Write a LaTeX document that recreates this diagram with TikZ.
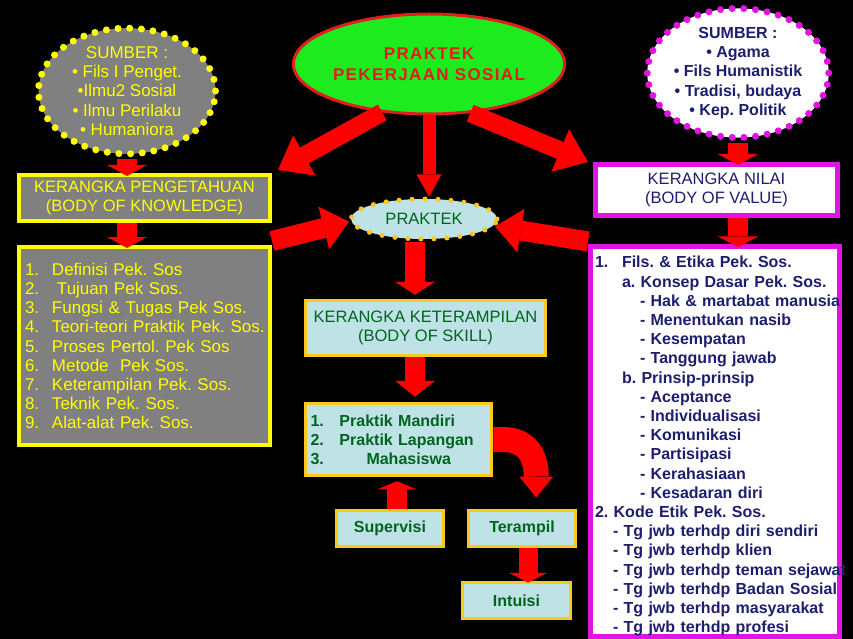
\documentclass[tikz,border=0pt]{standalone}
\usepackage{fontspec}
\setmainfont{Liberation Sans}
\newfontfamily\spacedfont[LetterSpace=8]{Liberation Sans}
\usetikzlibrary{shapes.geometric,arrows.meta}
\frenchspacing
\definecolor{bggray}{RGB}{128,128,128}
\definecolor{ylw}{RGB}{255,255,0}
\definecolor{brgreen}{RGB}{30,235,30}
\definecolor{pred}{RGB}{255,0,0}
\definecolor{ptext}{RGB}{225,30,30}
\definecolor{lblue}{RGB}{190,226,230}
\definecolor{gold}{RGB}{250,200,30}
\definecolor{dgreen}{RGB}{0,100,30}
\definecolor{mag}{RGB}{225,20,225}
\definecolor{navy}{RGB}{30,30,110}
\newcommand\numbox[1]{\makebox[27pt][l]{#1}}
\begin{document}
\begin{tikzpicture}[x=1pt,y=-1pt,
  every node/.style={inner sep=0pt},
  hdr/.style={font=\frenchspacing\fontsize{16.5}{19.2}\selectfont, align=center},
  reg/.style={font=\frenchspacing\fontsize{17}{19.2}\selectfont},
  itm/.style={font=\frenchspacing\bfseries\fontsize{16}{19.2}\selectfont},
  dotted ell/.style={ellipse, line width=7pt, dash pattern=on 0pt off 11.7pt, line cap=round},
  ybox/.style={rectangle, fill=bggray, draw=ylw, line width=4pt, text=ylw},
  bbox/.style={rectangle, fill=lblue, draw=gold, line width=3.5pt, text=dgreen},
  mbox/.style={rectangle, fill=white, draw=mag, line width=5pt, text=navy},
  barr/.style args={#1/#2/#3}{draw=pred, line width=#1, -{Triangle[width=#2 0 0, length=#3 0 0, line width=0pt 0]}}
]
\useasboundingbox (0,0) rectangle (853,639);
\fill[black] (0,0) rectangle (853,639);

% left column
\node[dotted ell, fill=bggray, draw=ylw, minimum width=177pt, minimum height=106pt, text=ylw, reg, align=center]
  (srcL) at (127,91) {SUMBER :\\• Fils I Penget.\\•Ilmu2 Sosial\\• Ilmu Perilaku\\• Humaniora};
\node[ybox, hdr, minimum width=251pt, minimum height=46pt] (kp) at (144.5,198)
  {KERANGKA PENGETAHUAN\\(BODY OF KNOWLEDGE)};
\node[ybox, reg, minimum width=251pt, minimum height=198pt, text width=239pt, align=left] (kl) at (144.5,346)
  {\mbox{\numbox{1.}Definisi Pek. Sos}\\
   \mbox{\numbox{2.}\hspace*{5pt}Tujuan Pek Sos.}\\
   \mbox{\numbox{3.}Fungsi \& Tugas Pek Sos.}\\
   \mbox{\numbox{4.}Teori-teori Praktik Pek. Sos.}\\
   \mbox{\numbox{5.}Proses Pertol. Pek Sos}\\
   \mbox{\numbox{6.}Metode\ \ Pek Sos.}\\
   \mbox{\numbox{7.}Keterampilan Pek. Sos.}\\
   \mbox{\numbox{8.}Teknik Pek. Sos.}\\
   \mbox{\numbox{9.}Alat-alat Pek. Sos.}};

% centre column
\node[ellipse, fill=brgreen, draw=ptext, line width=3pt, minimum width=245pt, minimum height=100pt,
  text=ptext, align=center, font=\spacedfont\bfseries\fontsize{17}{21}\selectfont]
  (pps) at (429,64) {PRAKTEK\\PEKERJAAN SOSIAL};
\node[dotted ell, fill=lblue, draw=gold, line width=5pt, dash pattern=on 0pt off 13pt,
  minimum width=146pt, minimum height=40pt, text=dgreen, hdr] (prk) at (424,219) {PRAKTEK};
\node[bbox, hdr, minimum width=240pt, minimum height=55pt] (kk) at (425.5,328)
  {KERANGKA KETERAMPILAN\\(BODY OF SKILL)};
\node[bbox, itm, minimum width=186pt, minimum height=72pt, text width=176pt, align=left] (m) at (398.5,439.5)
  {\makebox[29pt][l]{1.}Praktik Mandiri\\
   \makebox[29pt][l]{2.}Praktik Lapangan\\
   \makebox[56pt][l]{3.}Mahasiswa};
\node[bbox, itm, minimum width=107pt, minimum height=36pt] (sup) at (390,528.5) {Supervisi};
\node[bbox, itm, minimum width=107pt, minimum height=36pt] (ter) at (522,528.5) {Terampil};
\node[bbox, itm, minimum width=108pt, minimum height=36pt] (int) at (516.5,600.5) {Intuisi};

% right column
\node[dotted ell, fill=white, draw=mag, minimum width=181pt, minimum height=121pt, text=navy, itm, align=center]
  (srcR) at (738,73) {SUMBER :\\• Agama\\• Fils Humanistik\\• Tradisi, budaya\\• Kep. Politik};
\node[mbox, hdr, minimum width=242pt, minimum height=51pt] (nv) at (716.5,190)
  {KERANGKA NILAI\\(BODY OF VALUE)};
\node[mbox, itm, minimum width=249pt, minimum height=388pt, text width=240pt, align=left] (vl) at (715,441.5)
  {\mbox{\rule{0pt}{21pt}\numbox{1.}Fils. \& Etika Pek. Sos.}\\
   \mbox{\hspace*{27pt}a. Konsep Dasar Pek. Sos.}\\
   \mbox{\hspace*{45pt}- Hak \& martabat manusia}\\
   \mbox{\hspace*{45pt}- Menentukan nasib}\\
   \mbox{\hspace*{45pt}- Kesempatan}\\
   \mbox{\hspace*{45pt}- Tanggung jawab}\\
   \mbox{\hspace*{27pt}b. Prinsip-prinsip}\\
   \mbox{\hspace*{45pt}- Aceptance}\\
   \mbox{\hspace*{45pt}- Individualisasi}\\
   \mbox{\hspace*{45pt}- Komunikasi}\\
   \mbox{\hspace*{45pt}- Partisipasi}\\
   \mbox{\hspace*{45pt}- Kerahasiaan}\\
   \mbox{\hspace*{45pt}- Kesadaran diri}\\
   \mbox{2. Kode Etik Pek. Sos.}\\
   \mbox{\hspace*{18pt}- Tg jwb terhdp diri sendiri}\\
   \mbox{\hspace*{18pt}- Tg jwb terhdp klien}\\
   \mbox{\hspace*{18pt}- Tg jwb terhdp teman sejawat}\\
   \mbox{\hspace*{18pt}- Tg jwb terhdp Badan Sosial}\\
   \mbox{\hspace*{18pt}- Tg jwb terhdp masyarakat}\\
   \mbox{\hspace*{18pt}- Tg jwb terhdp profesi}};

% arrows
\draw[barr={20pt/40pt/11pt}, shorten <=2pt, shorten >=-3pt] (srcL.south) -- (srcL.south |- kp.north);
\draw[barr={20pt/40pt/11pt}, shorten >=-3pt] ([xshift=-17.5pt]kp.south) -- ([xshift=-17.5pt]kp.south |- kl.north);
\draw[barr={20pt/40pt/11pt}, shorten <=2pt, shorten >=-3pt] (srcR.south) -- (srcR.south |- nv.north);
\draw[barr={20pt/40pt/11pt}, shorten >=-3pt] (srcR.south |- nv.south) -- (srcR.south |- vl.north);
\draw[barr={18pt/46pt/30pt}] (pps.226) -- ([xshift=6pt,yshift=3pt]kp.north east);
\draw[barr={18pt/46pt/30pt}] (pps.310) -- ([xshift=-5pt]nv.north west);
\draw[barr={13pt/25pt/22pt}] (pps.south) -- (pps.south |- prk.north);
\draw[barr={20pt/44pt/26pt}] ([yshift=4pt]kl.north east) -- (prk.182);
\draw[barr={20pt/44pt/26pt}] ([yshift=3pt]vl.north west) -- (prk.-6);
\draw[barr={20pt/40pt/13pt}, shorten >=4pt] ([xshift=-9pt]prk.south) -- ([xshift=-9pt]prk.south |- kk.north);
\draw[barr={20pt/40pt/16pt}, shorten >=5pt] ([xshift=-10.5pt]kk.south) -- ([xshift=-10.5pt]kk.south |- m.north);
\draw[barr={20pt/39pt/8pt}, shorten >=4pt] ([xshift=7pt]sup.north) -- ([xshift=7pt]sup.north |- m.south);
\draw[barr={19pt/38pt/10pt}, shorten >=-2pt] ([xshift=6pt]ter.south) -- ([xshift=6pt]ter.south |- int.north);
\draw[barr={25pt/34pt/21pt}] (m.east) -- ++(10,0) .. controls +(22,0) and +(0,-22) .. ++(33,37) -- ++(0,21);
\end{tikzpicture}
\end{document}
